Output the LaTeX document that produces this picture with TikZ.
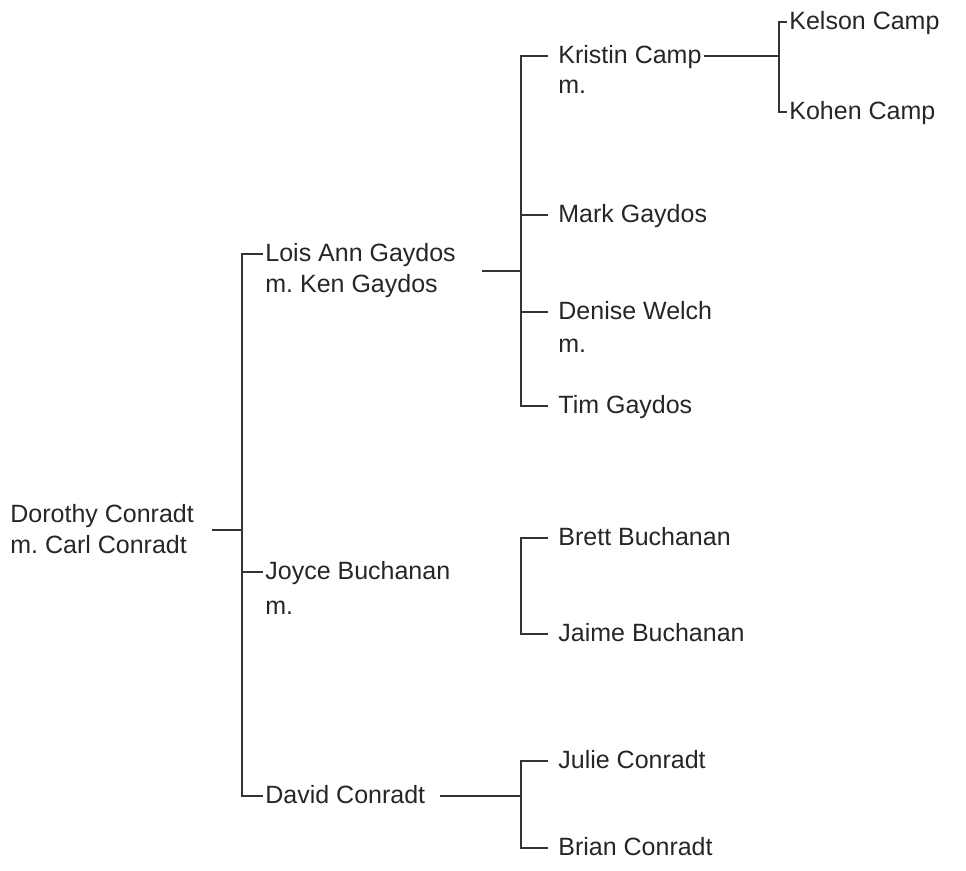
\documentclass[tikz,border=0pt]{standalone}
\usepackage{fontspec}
\setmainfont{Liberation Sans}
\usetikzlibrary{positioning, calc}
\tikzset{
	person/.style={anchor=west, inner sep=1pt, font=\fontsize{12.5}{14}\selectfont\frenchspacing,
		text height=9pt, text depth=1pt, text=black!85},
	spouse/.style={person, anchor=north west},
	line/.style={draw, black!80, line width=0.7pt},
	gap/.style={line, shorten >=4pt}
}

\begin{document}
\begin{tikzpicture}[x=0.5pt, y=-0.5pt]
	\useasboundingbox (0,0) rectangle (966,871);

	% Generation 1
	\node[person] (dorothy) at (8,515) {Dorothy Conradt};
	\node[spouse, below=3pt of dorothy.south west, anchor=north west] (dorothy-m) {m. Carl Conradt};
	\coordinate (dorothy-out) at (212,530);
	\coordinate (root-bus) at (242,530);

	% Generation 2
	\node[person] (lois) at (263,254) {Lois Ann Gaydos};
	\node[spouse, below=3pt of lois.south west, anchor=north west] (lois-m) {m. Ken Gaydos};
	\node[person] (joyce) at (263,572) {Joyce Buchanan};
	\node[spouse, below=5pt of joyce.south west, anchor=north west] (joyce-m) {m.};
	\node[person] (david) at (263,796) {David Conradt};
	\coordinate (lois-out) at (482,271);
	\coordinate (lois-bus) at (521,271);
	\coordinate (joyce-bus) at (521,572);
	\coordinate (david-bus) at (521,796);

	% Generation 3
	\node[person] (kristin) at (556,56) {Kristin Camp};
	\node[spouse, below=2.5pt of kristin.south west, anchor=north west] (kristin-m) {m.};
	\node[person] (mark) at (556,215) {Mark Gaydos};
	\node[person] (denise) at (556,312) {Denise Welch};
	\node[spouse, below=4pt of denise.south west, anchor=north west] (denise-m) {m.};
	\node[person] (tim) at (556,406) {Tim Gaydos};
	\node[person] (brett) at (556,538) {Brett Buchanan};
	\node[person] (jaime) at (556,634) {Jaime Buchanan};
	\node[person] (julie) at (556,761) {Julie Conradt};
	\node[person] (brian) at (556,848) {Brian Conradt};
	\coordinate (kristin-bus) at (779,56);

	% Generation 4
	\node[person] (kelson) at (787,22) {Kelson Camp};
	\node[person] (kohen) at (787,112) {Kohen Camp};

	% Connections
	\draw[line] (dorothy-out) -- (root-bus);
	\draw[line] (root-bus) |- (lois.west);
	\draw[line] (root-bus) |- (david.west);
	\draw[line] (joyce.west -| root-bus) -- (joyce.west);

	\draw[line] (lois-out) -- (lois-bus);
	\draw[gap] (lois-bus) |- (kristin.west);
	\draw[gap] (lois-bus) |- (tim.west);
	\foreach \n in {mark, denise}
		\draw[gap] (\n.west -| lois-bus) -- (\n.west);

	\draw[gap] (joyce-bus) |- (brett.west);
	\draw[gap] (joyce-bus) |- (jaime.west);

	\draw[line, shorten <=6pt] (david.east) -- (david-bus);
	\draw[gap] (david-bus) |- (julie.west);
	\draw[gap] (david-bus) |- (brian.west);

	\draw[line] (kristin.east) -- (kristin-bus);
	\draw[line] (kristin-bus) |- (kelson.west);
	\draw[line] (kristin-bus) |- (kohen.west);
\end{tikzpicture}
\end{document}
